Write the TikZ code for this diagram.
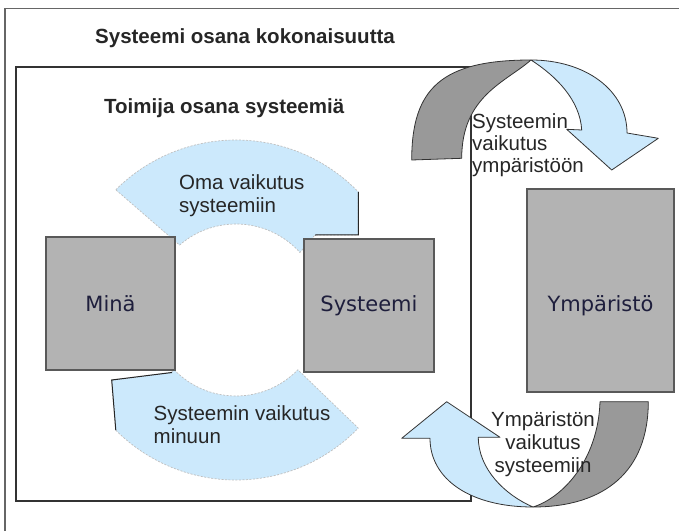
\documentclass[tikz,border=0pt]{standalone}
\usepackage{fontspec}
\setmainfont{Liberation Sans}
\newfontfamily\boxfont{DejaVu Sans}
\usetikzlibrary{calc}
\definecolor{paleblue}{HTML}{CCE9FC}
\definecolor{bandgray}{HTML}{999999}
\definecolor{boxgray}{HTML}{B3B3B3}
\definecolor{boxink}{HTML}{1E1E3C}

\begin{document}
\begin{tikzpicture}[x=1pt,y=1pt,
  heading/.style={anchor=base west,inner sep=0pt,font=\fontsize{20.5pt}{23pt}\selectfont\bfseries,text=black!85},
  note/.style={inner sep=0pt,font=\fontsize{20.5pt}{23pt}\selectfont,text=black!85},
  box/.style={draw=black!65,line width=1.2pt,fill=boxgray,inner sep=0pt,font=\boxfont\fontsize{21pt}{24pt}\selectfont,text=boxink},
  sheet/.style={draw=black!80,line width=1.3pt},
  halo/.style={fill=paleblue,draw=black!25,line width=0.7pt,dash pattern=on 2pt off 1.5pt},
  notch/.style={draw=black!85,line width=1pt},
  band/.style={fill=paleblue,draw=black!80,line width=0.8pt,line join=round},
  back/.style={fill=bandgray,draw=black!80,line width=0.8pt,line join=round}]
  \useasboundingbox (0,0) rectangle (679,531);

  % frames and titles
  \draw[sheet,draw=black!60,line width=1.6pt] (5,0) |- (679,522.5);
  \draw[sheet] (16,30) rectangle (471,464);
  \node[heading] (outer title) at (95,487.5) {Systeemi osana kokonaisuutta};
  \node[heading] (inner title) at (104,417) {Toimija osana systeemiä};

  % inner loop
  \coordinate (ring) at (236,221);
  \path[halo] ($(ring)+(135:170)$) arc[start angle=135,end angle=44,radius=170pt]
    -- ++(0,-43) -- (315,296) -- ($(ring)+(42:86)$) arc[start angle=42,end angle=131,radius=86pt] -- cycle;
  \draw[notch] ($(ring)+(44:170)$) -- ++(0,-43) -- (315,296);
  \path[halo] ($(ring)+(225:170)$) arc[start angle=225,end angle=316,radius=170pt]
    -- ($(ring)+(316:86)$) arc[start angle=316,end angle=224,radius=86pt] -- (171,158.5) -- (111.7,151) -- cycle;
  \draw[notch] ($(ring)+(225:170)$) -- (111.7,151) -- (172,158.5);

  % last baselines of the two-line texts
  \node[note,anchor=base west,align=left] (oma text) at (179,319) {Oma vaikutus\\systeemiin};
  \node[note,anchor=base west,align=left] (minuun text) at (153.5,88) {Systeemin vaikutus\\minuun};

  \node[box,minimum width=129pt,minimum height=133pt] (mina) at (110.5,227.5) {Minä};
  \node[box,minimum width=130pt,minimum height=133pt] (systeemi) at (369,225.5) {Systeemi};
  \node[box,minimum width=147pt,minimum height=203pt] (ymparisto) at (600.5,240.5) {};
  \node[box,draw=none,fill=none,anchor=base] (ymparisto text) at ($(ymparisto)+(0,-21)$) {Ympäristö};

  % outer loop
  \coordinate (top cross) at (531,471);
  \coordinate (bottom cross) at (533,24);
  \path[back] (411.7,371) .. controls (411.7,443) and (442,471) .. (top cross)
    .. controls (506,449) and (461.7,435) .. (461.7,372.7) -- cycle;
  \path[band] (top cross) .. controls (585,471) and (627,441) .. (627,398)
    -- (658.3,392.7) -- (611.7,361) -- (566.7,401.7) -- (581.7,401)
    .. controls (580,431) and (556,455) .. (top cross) -- cycle;
  \path[back] (600,129.3) -- (648.3,129.3) .. controls (648.3,60) and (605,24) .. (bottom cross)
    .. controls (562,33) and (598,70) .. (600,129.3) -- cycle;
  \path[band] (bottom cross) .. controls (470,24) and (430,52) .. (430,92.7)
    -- (401.7,92.7) -- (446.7,129.3) -- (500,93.7) -- (478.3,93.7)
    .. controls (478.3,62) and (505,36) .. (bottom cross) -- cycle;

  \node[note,anchor=base west,align=left,font=\fontsize{20.5pt}{22pt}\selectfont] (ymparistoon text) at (472,359) {Systeemin\\vaikutus\\ympäristöön};
  \node[note,anchor=base,align=center] (systeemiin text) at (543,59) {Ympäristön\\vaikutus\\systeemiin};
\end{tikzpicture}
\end{document}
